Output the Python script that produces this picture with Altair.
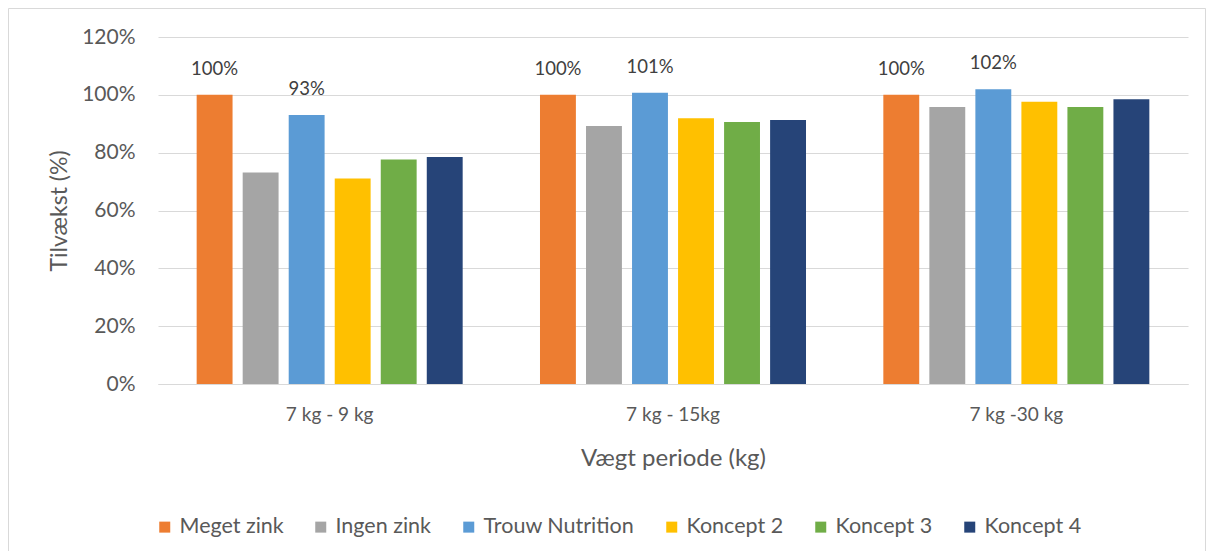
import altair as alt
import pandas as pd

groups = ["7 kg - 9 kg", "7 kg - 15kg", "7 kg -30 kg"]
series = ["Meget zink", "Ingen zink", "Trouw Nutrition", "Koncept 2", "Koncept 3", "Koncept 4"]
colors = ["#ED7D31", "#A5A5A5", "#5B9BD5", "#FFC000", "#70AD47", "#264478"]
meget_zink = [1.000, 1.000, 1.000]
ingen_zink = [0.731, 0.892, 0.958]
trouw_nutrition = [0.930, 1.007, 1.019]
koncept_2 = [0.711, 0.919, 0.976]
koncept_3 = [0.776, 0.906, 0.958]
koncept_4 = [0.785, 0.913, 0.985]
labelled = ["Meget zink", "Trouw Nutrition"]
y_ticks = [0, 0.2, 0.4, 0.6, 0.8, 1.0, 1.2]

values = [meget_zink, ingen_zink, trouw_nutrition, koncept_2, koncept_3, koncept_4]
rows = []
for s, vals in zip(series, values):
    for g, v in zip(groups, vals):
        rows.append({"group": g, "series": s, "value": v})
df = pd.DataFrame(rows)

FONT = "Lato"
TXT = "#595959"
GRID = "#D9D9D9"

x_enc = alt.X(
    "group:N", sort=groups,
    scale=alt.Scale(paddingInner=0, paddingOuter=0),
    axis=alt.Axis(
        title="Vægt periode (kg)", labelAngle=0, labelFontSize=19, labelColor=TXT,
        labelPadding=21, ticks=False, tickSize=0, domainColor=GRID, domainWidth=1,
        titleFontSize=24, titleFontWeight="normal", titleColor=TXT,
        titleY=74, titleBaseline="middle",
    ),
)
xoff_enc = alt.XOffset("series:N", sort=series,
                       scale=alt.Scale(paddingInner=0.22, paddingOuter=0.84))
y_enc = alt.Y(
    "value:Q", scale=alt.Scale(domain=[0, 1.2], nice=False),
    axis=alt.Axis(
        values=y_ticks, format=".0%", labelFontSize=21, labelColor=TXT,
        labelPadding=23, ticks=False, tickSize=0, domain=False,
        grid=True, gridColor=GRID, gridWidth=1,
        title="Tilvækst (%)", titleFontSize=23, titleFontWeight="normal",
        titleColor=TXT, titleX=-87, titleY=173.5,
    ),
)

bars = alt.Chart(df).mark_bar().encode(
    x=x_enc, xOffset=xoff_enc, y=y_enc,
    color=alt.Color(
        "series:N", sort=series,
        scale=alt.Scale(domain=series, range=colors),
        legend=alt.Legend(
            title=None, orient="none", legendX=-4, legendY=479,
            direction="horizontal", columns=6, symbolType="square",
            symbolSize=121, symbolStrokeWidth=0, labelFontSize=21.5,
            labelColor=TXT, columnPadding=26, labelOffset=4, labelLimit=300,
        ),
    ),
)

labels = alt.Chart(df).transform_filter(
    alt.FieldOneOfPredicate(field="series", oneOf=labelled)
).mark_text(dy=-26, fontSize=18.5, color="#404040", font=FONT).encode(
    x=alt.X("group:N", sort=groups), xOffset=alt.XOffset("series:N", sort=series),
    y="value:Q", text=alt.Text("value:Q", format=".0%"),
)

frame = alt.Chart(pd.DataFrame({"a": [0]})).mark_rect(
    fillOpacity=0, stroke=GRID, strokeWidth=1
).encode(
    x=alt.value(-149.5), x2=alt.value(1047.5), y=alt.value(-28.5), y2=alt.value(534.5)
)

chart = alt.layer(frame, bars, labels).properties(
    width=1030, height=347,
    autosize=alt.AutoSizeParams(type="none"),
    padding={"left": 150, "top": 29, "right": 18, "bottom": 167},
).configure(font=FONT).configure_view(stroke=None)

chart.save("out.html", embed_options={"renderer": "svg", "actions": False})
